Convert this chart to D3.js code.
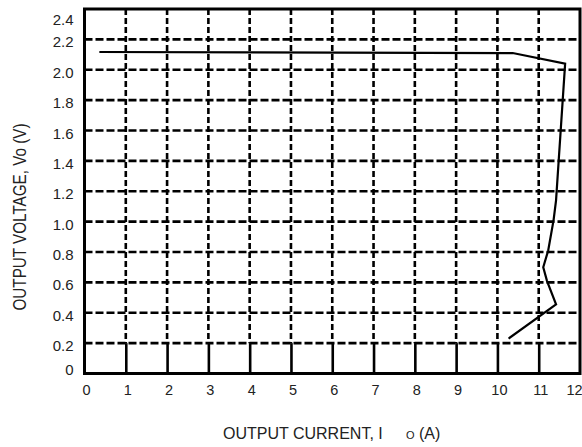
<!DOCTYPE html>
<html>
<head>
<meta charset="utf-8">
<script src="https://cdn.jsdelivr.net/npm/d3@7"></script>
<style>
  html, body { margin: 0; padding: 0; background: #fff; }
  svg { display: block; font-family: "Liberation Sans", Arial, sans-serif; }
</style>
</head>
<body>
<svg id="chart" width="582" height="447"></svg>
<script>
// ---- data ----
const currentA = [0.36, 10.37, 11.64, 11.42, 11.36, 11.23, 11.11, 11.20, 11.42, 10.27];
const voltageV = [2.117, 2.11, 2.04, 1.14, 1.01, 0.81, 0.70, 0.61, 0.455, 0.23];
const xTicks = [0, 1, 2, 3, 4, 5, 6, 7, 8, 9, 10, 11, 12];
const yTicks = [0, 0.2, 0.4, 0.6, 0.8, 1.0, 1.2, 1.4, 1.6, 1.8, 2.0, 2.2, 2.4];
const yTickLabels = ["0", "0.2", "0.4", "0.6", "0.8", "1.0", "1.2", "1.4", "1.6", "1.8", "2.0", "2.2", "2.4"];
const xTitle = "OUTPUT CURRENT, I";
const xTitleSub = "O";
const xTitleUnit = " (A)";
const yTitle = "OUTPUT VOLTAGE, Vo (V)";

const svg = d3.select("#chart");
const x = d3.scaleLinear().domain([0, 12]).range([84.5, 580]);
const y = d3.scaleLinear().domain([0, 2.4]).range([373.5, 9]);

// grid - horizontal dashed
svg.append("g").selectAll("line")
  .data(yTicks.filter(d => d > 0 && d < 2.4))
  .join("line")
  .attr("x1", x(0)).attr("x2", x(12))
  .attr("y1", d => y(d)).attr("y2", d => y(d))
  .attr("stroke", "#000").attr("stroke-width", 2.6)
  .attr("stroke-dasharray", "8,3");

// grid - vertical dashed
svg.append("g").selectAll("line")
  .data(xTicks.filter(d => d > 0 && d < 12))
  .join("line")
  .attr("x1", d => x(d)).attr("x2", d => x(d))
  .attr("y1", y(2.4)).attr("y2", y(0.2))
  .attr("stroke", "#000").attr("stroke-width", 2.6)
  .attr("stroke-dasharray", "6,3");

// x axis (solid inward ticks)
const xAxis = svg.append("g")
  .attr("transform", `translate(0,${y(0)})`)
  .call(d3.axisBottom(x).tickValues(xTicks).tickFormat(d3.format("d"))
        .tickSizeInner(-(y(0) - y(0.2))).tickSizeOuter(0).tickPadding(0));
xAxis.select(".domain").remove();
xAxis.selectAll(".tick line").attr("stroke", "#000").attr("stroke-width", 2.6)
  .filter(d => d === 0 || d === 12).remove();
xAxis.selectAll(".tick text")
  .attr("font-size", 14.5).attr("fill", "#222")
  .attr("font-family", "Liberation Sans, Arial, sans-serif")
  .attr("y", 21).attr("dy", 0).attr("dx", d => d === 12 ? -6 : 1.5);

// y axis labels
const yAxis = svg.append("g")
  .attr("transform", `translate(${x(0)},0)`)
  .call(d3.axisLeft(y).tickValues(yTicks).tickFormat((d, i) => yTickLabels[i])
        .tickSize(0).tickPadding(11));
yAxis.select(".domain").remove();
yAxis.selectAll(".tick text")
  .attr("font-size", 15).attr("fill", "#222")
  .attr("font-family", "Liberation Sans, Arial, sans-serif")
  .attr("dy", d => d === 2.4 ? "1.0em" : (d === 0 ? "0.05em" : "0.5em"));

// frame
svg.append("rect")
  .attr("x", x(0)).attr("y", y(2.4))
  .attr("width", x(12) - x(0)).attr("height", y(0) - y(2.4))
  .attr("fill", "none").attr("stroke", "#000").attr("stroke-width", 3);

// curve
const pts = currentA.map((c, i) => [c, voltageV[i]]);
svg.append("path")
  .datum(pts)
  .attr("d", d3.line().x(d => x(d[0])).y(d => y(d[1])))
  .attr("fill", "none").attr("stroke", "#000").attr("stroke-width", 2.2)
  .attr("stroke-linejoin", "miter");

// x title
const xt = svg.append("text")
  .attr("x", 223).attr("y", 439)
  .attr("font-size", 16).attr("fill", "#222");
xt.append("tspan").text(xTitle);
xt.append("tspan").attr("x", 406).attr("font-size", 11).text(xTitleSub);
xt.append("tspan").attr("font-size", 16).text(xTitleUnit);

// y title
svg.append("text")
  .attr("transform", "translate(25.5,217) rotate(-90)")
  .attr("text-anchor", "middle")
  .attr("font-size", 19).attr("fill", "#222")
  .attr("textLength", 187).attr("lengthAdjust", "spacingAndGlyphs")
  .text(yTitle);
</script>
</body>
</html>
